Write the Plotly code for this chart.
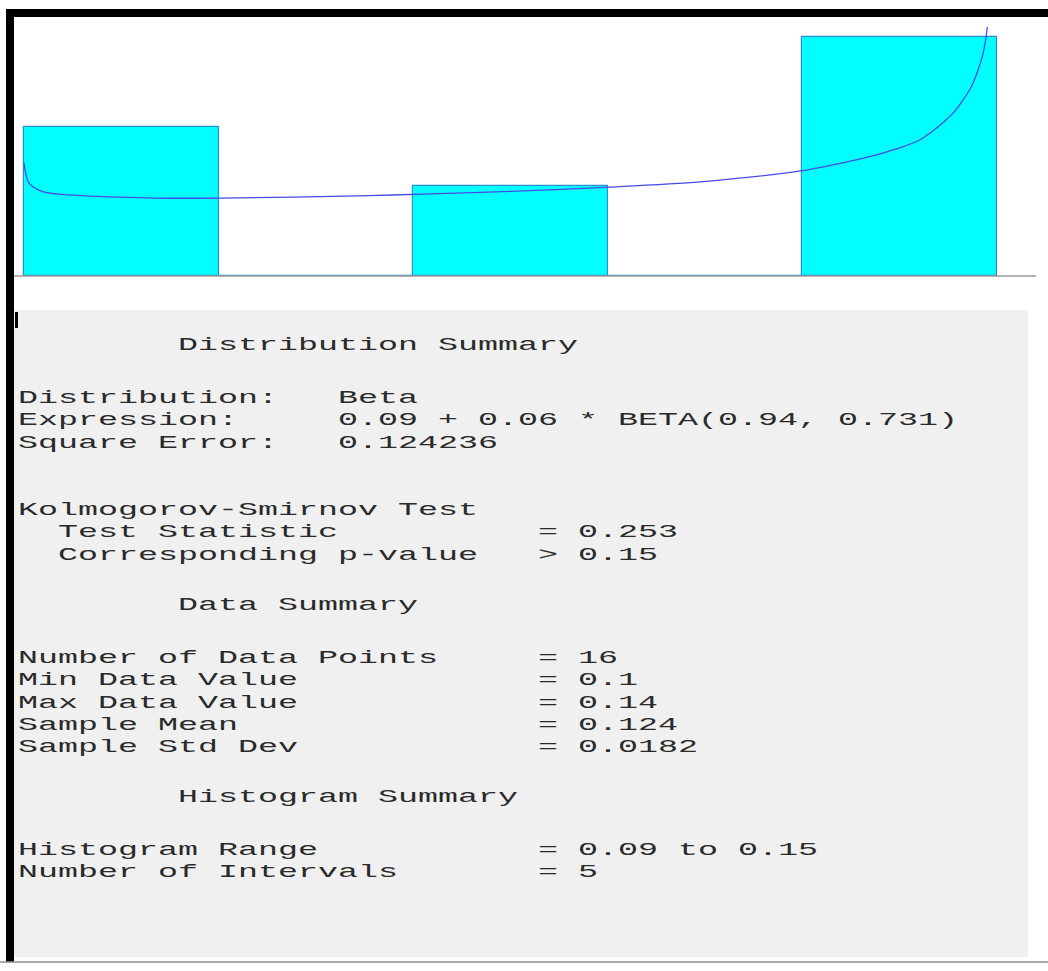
import plotly.graph_objects as go

# ---------------- data ----------------
bin_edges = [0.09, 0.102, 0.114, 0.126, 0.138, 0.15]
rel_freq = [0.3125, 0.0, 0.1875, 0.0, 0.5]

curve_x = [0.0900, 0.0903, 0.0912, 0.0931, 0.0980, 0.1021, 0.1113, 0.1150,
           0.1200, 0.1261, 0.1317, 0.1379, 0.1409, 0.1425, 0.1440, 0.1452,
           0.1461, 0.1468, 0.1474, 0.1479, 0.1484, 0.1488, 0.1491, 0.1493,
           0.1494]
curve_y = [0.236, 0.195, 0.176, 0.169, 0.163, 0.163, 0.168, 0.172,
           0.177, 0.186, 0.197, 0.220, 0.240, 0.253, 0.268, 0.284,
           0.305, 0.325, 0.345, 0.368, 0.395, 0.428, 0.460, 0.494,
           0.521]

title_dist = "Distribution Summary"
dist_labels = ["Distribution:", "Expression:", "Square Error:"]
dist_values = ["Beta", "0.09 + 0.06 * BETA(0.94, 0.731)", "0.124236"]
ks_title = "Kolmogorov-Smirnov Test"
ks_labels = ["Test Statistic", "Corresponding p-value"]
ks_values = ["= 0.253", "> 0.15"]
title_data = "Data Summary"
data_labels = ["Number of Data Points", "Min Data Value", "Max Data Value",
               "Sample Mean", "Sample Std Dev"]
data_values = ["= 16", "= 0.1", "= 0.14", "= 0.124", "= 0.0182"]
title_hist = "Histogram Summary"
hist_labels = ["Histogram Range", "Number of Intervals"]
hist_values = ["= 0.09 to 0.15", "= 5"]

# ---------------- layout helpers ----------------
W, H = 1048, 971


def px(x):
    return x / W


def py(y):
    return 1 - y / H


centers = [(bin_edges[i] + bin_edges[i + 1]) / 2 for i in range(len(rel_freq))]
bw = bin_edges[1] - bin_edges[0]

fig = go.Figure()
fig.add_trace(go.Bar(
    x=centers, y=rel_freq, width=bw,
    marker=dict(color="#00ffff", line=dict(color="#2a8fd0", width=1.2)),
    hoverinfo="skip", showlegend=False))
fig.add_trace(go.Scatter(
    x=curve_x, y=curve_y, mode="lines",
    line=dict(color="#4a4ae6", width=1.3, shape="spline", smoothing=0.8),
    hoverinfo="skip", showlegend=False))

# axis: 0.09 at px 24, 0.15 at px 997
x_lo = 0.09 - (24 - 14) / 973 * 0.06
x_hi = 0.09 + (1036 - 24) / 973 * 0.06
fig.update_xaxes(domain=[px(14), px(1036)], range=[x_lo, x_hi],
                 showgrid=False, zeroline=False, showticklabels=False,
                 ticks="", showline=False)
fig.update_yaxes(domain=[py(276), py(17)], range=[0, (276 - 17) / 478],
                 showgrid=False, zeroline=False, showticklabels=False,
                 ticks="", showline=False)

shapes = []
# gray panel
shapes.append(dict(type="rect", xref="paper", yref="paper",
                   x0=px(14), x1=px(1028), y0=py(957), y1=py(310),
                   fillcolor="#f0f0f0", line=dict(width=0), layer="below"))
# baseline axis line
shapes.append(dict(type="line", xref="paper", yref="paper",
                   x0=px(14), x1=px(1036), y0=py(276), y1=py(276),
                   line=dict(color="#9a9a9a", width=1.5)))
# black frame top and left
shapes.append(dict(type="rect", xref="paper", yref="paper",
                   x0=px(6), x1=px(1048), y0=py(17), y1=py(9),
                   fillcolor="black", line=dict(width=0)))
shapes.append(dict(type="rect", xref="paper", yref="paper",
                   x0=px(6), x1=px(14), y0=py(962), y1=py(9),
                   fillcolor="black", line=dict(width=0)))
# bottom gray line
shapes.append(dict(type="line", xref="paper", yref="paper",
                   x0=px(0), x1=px(1048), y0=py(962), y1=py(962),
                   line=dict(color="#8c8c8c", width=1.5)))
# small cursor mark
shapes.append(dict(type="rect", xref="paper", yref="paper",
                   x0=px(15), x1=px(18), y0=py(328), y1=py(312),
                   fillcolor="black", line=dict(width=0)))

FONT = dict(family="Liberation Mono, Courier New, monospace", size=19, color="#2a2a2a")
CW = 20.0
X0 = 17

annotations = []


def add(text, col, y):
    annotations.append(dict(text=text, x=px(X0 + col * CW), y=py(y),
                            xref="paper", yref="paper", xanchor="left",
                            yanchor="middle", showarrow=False, font=FONT,
                            borderpad=0))


add(title_dist, 8, 345)
for i, (l, v) in enumerate(zip(dist_labels, dist_values)):
    yy = 398 + i * 22.3
    add(l, 0, yy)
    add(v, 16, yy)
add(ks_title, 0, 510)
for i, (l, v) in enumerate(zip(ks_labels, ks_values)):
    yy = 532 + i * 22.5
    add(l, 2, yy)
    add(v, 26, yy)
add(title_data, 8, 605)
for i, (l, v) in enumerate(zip(data_labels, data_values)):
    yy = 658 + i * 22.3
    add(l, 0, yy)
    add(v, 26, yy)
add(title_hist, 8, 797)
for i, (l, v) in enumerate(zip(hist_labels, hist_values)):
    yy = 850 + i * 22.3
    add(l, 0, yy)
    add(v, 26, yy)

fig.update_layout(width=W, height=H, autosize=False,
                  margin=dict(l=0, r=0, t=0, b=0, pad=0),
                  paper_bgcolor="white", plot_bgcolor="white",
                  bargap=0, shapes=shapes, annotations=annotations,
                  showlegend=False)

scale = CW / (0.6 * FONT["size"])
post = ("var s=document.createElement('style');"
        "s.textContent='.annotation-text{transform-box:fill-box;"
        "transform-origin:0 50%%;transform:scaleX(%.4f);}';"
        "document.head.appendChild(s);" % scale)

fig.write_html("out.html", config={"displayModeBar": False}, post_script=post)
